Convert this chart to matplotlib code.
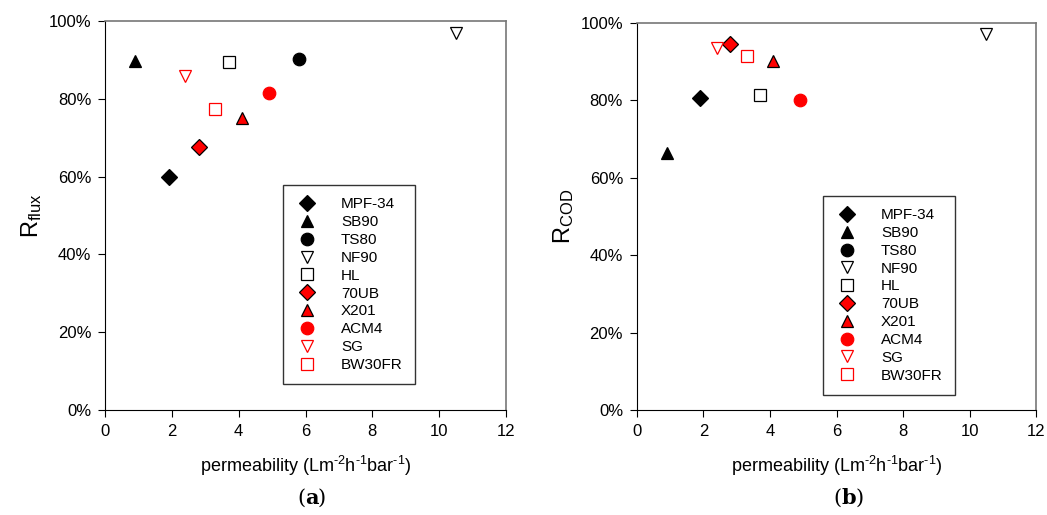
import matplotlib
matplotlib.use("Agg")
import matplotlib.pyplot as plt
import numpy as np

plt.rcParams['font.family'] = ['Liberation Sans', 'DejaVu Sans']
plt.rcParams['mathtext.fontset'] = 'custom'
plt.rcParams['mathtext.rm'] = 'Liberation Sans'
plt.rcParams['mathtext.it'] = 'Liberation Sans'

membranes = ['MPF-34', 'SB90', 'TS80', 'NF90', 'HL', '70UB', 'X201', 'ACM4', 'SG', 'BW30FR']
permeability = [1.9, 0.9, 5.8, 10.5, 3.7, 2.8, 4.1, 4.9, 2.4, 3.3]
r_flux = [0.60, 0.897, 0.903, 0.97, 0.895, 0.677, 0.75, 0.815, 0.86, 0.773]
r_cod = [0.806, 0.664, np.nan, 0.972, 0.814, 0.946, 0.902, 0.801, 0.935, 0.915]

# marker, face, edge
styles = [('D', 'black', 'black'), ('^', 'black', 'black'), ('o', 'black', 'black'),
          ('v', 'white', 'black'), ('s', 'white', 'black'), ('D', 'red', 'black'),
          ('^', 'red', 'black'), ('o', 'red', 'red'), ('v', 'white', 'red'),
          ('s', 'white', 'red')]


def panel(ax, yvals, ylab, leg_anchor):
    for name, xv, yv, (m, fc, ec) in zip(membranes, permeability, yvals, styles):
        ms = 9 if m == 'o' else 8.5
        ax.plot([xv], [yv], linestyle='none', marker=m, markersize=ms,
                markerfacecolor=fc, markeredgecolor=ec, markeredgewidth=0.9,
                label=name)
    ax.set_xlim(0, 12)
    ax.set_ylim(0, 1.0)
    ax.set_xticks(range(0, 13, 2))
    ax.set_yticks(np.arange(0, 1.01, 0.2))
    ax.set_yticklabels(['%d%%' % round(v * 100) for v in np.arange(0, 1.01, 0.2)])
    ax.tick_params(direction='out', length=5, labelsize=12, width=0.8, pad=5)
    ax.spines['left'].set_color('black')
    ax.spines['bottom'].set_color('black')
    ax.spines['top'].set_color('#777777')
    ax.spines['right'].set_color('#777777')
    ax.spines['top'].set_linewidth(1.2)
    ax.spines['right'].set_linewidth(1.2)
    ax.set_xlabel(r'permeability (Lm$^{\text{-2}}$h$^{\text{-1}}$bar$^{\text{-1}}$)',
                  fontsize=13, labelpad=11)
    ax.set_ylabel(ylab, fontsize=17, labelpad=3)
    leg = ax.legend(loc='upper left', bbox_to_anchor=leg_anchor, fontsize=11,
                    frameon=True, fancybox=False, edgecolor='black',
                    handletextpad=1.5, labelspacing=0.25, borderpad=0.8,
                    handlelength=1.5, borderaxespad=0)
    leg.get_frame().set_linewidth(1.0)


fig = plt.figure(figsize=(10.47, 5.15), dpi=100)
ax1 = fig.add_axes([0.1003, 0.2039, 0.383, 0.755])
ax2 = fig.add_axes([0.6084, 0.2039, 0.3811, 0.7514])

panel(ax1, r_flux, r'R$_{\mathregular{flux}}$', (0.444, 0.578))
panel(ax2, r_cod, r'R$_{\mathregular{COD}}$', (0.466, 0.553))

fig.text(0.2915, 0.022, '(', fontsize=15, family='DejaVu Serif', ha='right')
fig.text(0.2915, 0.022, 'a', fontsize=15, family='DejaVu Serif', weight='bold', ha='left')
fig.text(0.2915 + 0.0115, 0.022, ')', fontsize=15, family='DejaVu Serif', ha='left')
fig.text(0.8035, 0.022, '(', fontsize=15, family='DejaVu Serif', ha='right')
fig.text(0.8035, 0.022, 'b', fontsize=15, family='DejaVu Serif', weight='bold', ha='left')
fig.text(0.8035 + 0.0135, 0.022, ')', fontsize=15, family='DejaVu Serif', ha='left')

fig.savefig('out.png', dpi=100)
